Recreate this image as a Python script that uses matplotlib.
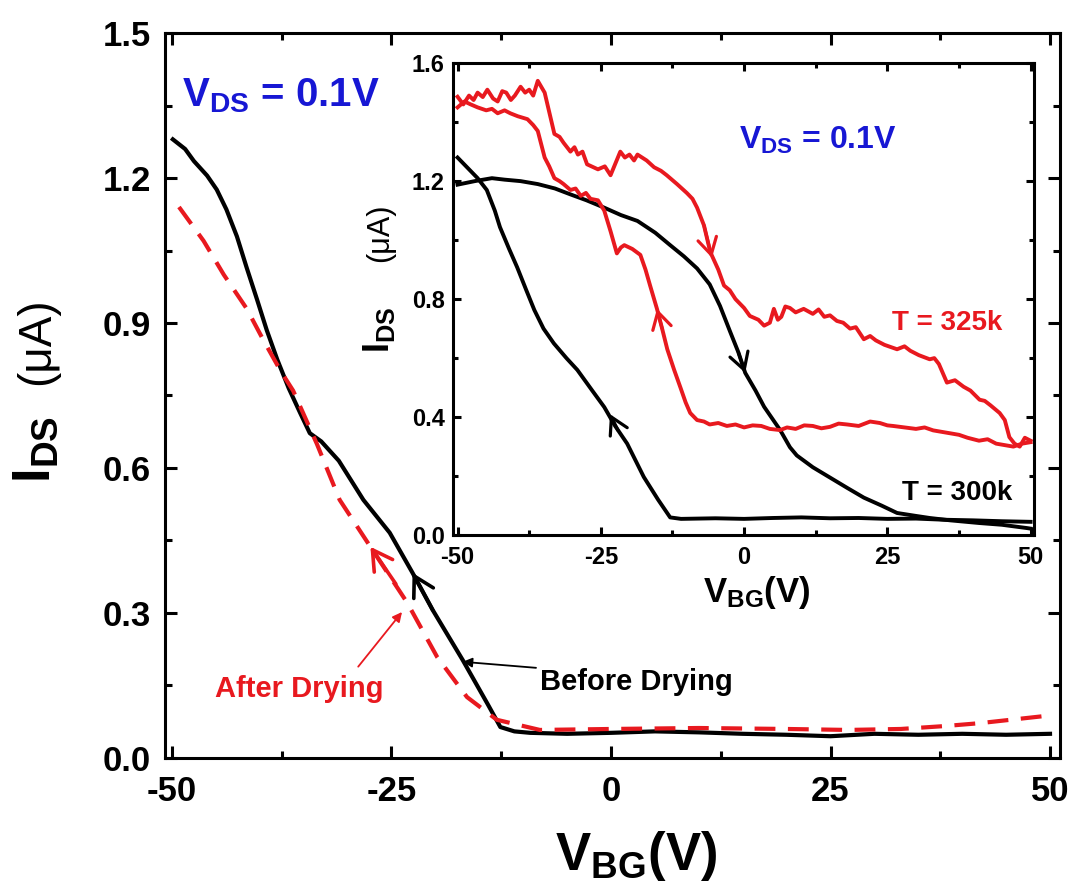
import matplotlib
matplotlib.use("Agg")
import matplotlib.pyplot as plt
from matplotlib.ticker import MultipleLocator

plt.rcParams["font.family"] = ["Liberation Sans", "DejaVu Sans"]
plt.rcParams["font.weight"] = "bold"
plt.rcParams["axes.unicode_minus"] = False
plt.rcParams["mathtext.fontset"] = "custom"
plt.rcParams["mathtext.rm"] = "Liberation Sans:bold"
plt.rcParams["mathtext.bf"] = "Liberation Sans:bold"
plt.rcParams["mathtext.it"] = "Liberation Sans:bold"

RED = "#e8191f"
BLUE = "#1717d4"

# main panel: before / after drying (V_DS = 0.1 V)
before_v = [-49.9, -48.5, -47.5, -46.0, -44.9, -43.8, -42.6, -41.5, -40.3, -39.2,
            -38.0, -36.7, -35.4, -34.3, -33.0, -31.0, -28.2, -25.2, -22.6, -20.3,
            -16.9, -14.0, -12.6, -11.0, -9.2, -5, 0, 5, 10, 15, 20, 25, 30, 35,
            40, 45, 50]
before_i = [1.28, 1.26, 1.235, 1.205, 1.176, 1.135, 1.079, 1.015, 0.948, 0.885,
            0.824, 0.765, 0.714, 0.672, 0.655, 0.615, 0.534, 0.466, 0.383, 0.306,
            0.203, 0.11, 0.064, 0.055, 0.052, 0.05, 0.052, 0.055, 0.053, 0.05,
            0.048, 0.045, 0.05, 0.048, 0.05, 0.048, 0.05]
after_v = [-49.2, -46.4, -44.1, -41.5, -39.6, -37.6, -36.2, -33.5, -30.9, -27.4,
           -23.2, -19.8, -16.4, -13.0, -8.1, 0, 10, 20, 27, 33, 38, 42, 46, 50]
after_i = [1.14, 1.07, 1.0, 0.93, 0.865, 0.80, 0.76, 0.65, 0.534, 0.437,
           0.321, 0.209, 0.126, 0.079, 0.058, 0.06, 0.062, 0.06, 0.058, 0.06,
           0.066, 0.072, 0.08, 0.088]

# inset: hysteresis loops at 300 K and 325 K
k300_fwd_v = [-50, -47, -44, -41.8, -39, -36, -33, -30.3, -27.5, -24.4, -21.5,
              -18.6, -15.5, -12.9, -10.5, -8.2, -6, -4.2, -2.4, -1, 0.2, 2, 3.5,
              6.3, 8, 9.2, 12, 15, 18, 20.9, 24, 26.7, 30, 32.4, 36, 41, 45, 49.3, 50]
k300_fwd_i = [1.188, 1.2, 1.21, 1.205, 1.2, 1.19, 1.175, 1.155, 1.135, 1.11, 1.085,
              1.065, 1.025, 0.983, 0.945, 0.904, 0.85, 0.777, 0.688, 0.62, 0.55, 0.49,
              0.435, 0.356, 0.298, 0.27, 0.23, 0.195, 0.16, 0.127, 0.1, 0.075, 0.065,
              0.058, 0.05, 0.041, 0.035, 0.024, 0.022]
k300_rev_v = [-50, -48, -46.5, -44.9, -43.5, -42.6, -41, -39.6, -38, -36.6, -35,
              -33.2, -31, -29.1, -26.5, -24.4, -22.5, -20.4, -17.5, -15, -12.9, -11,
              -5, 0, 5, 10, 15, 20, 25, 30, 35, 40, 45, 50]
k300_rev_i = [1.28, 1.24, 1.21, 1.17, 1.1, 1.044, 0.97, 0.908, 0.83, 0.763, 0.7,
              0.65, 0.6, 0.56, 0.49, 0.434, 0.37, 0.31, 0.197, 0.12, 0.06, 0.055,
              0.057, 0.055, 0.058, 0.06, 0.057, 0.058, 0.055, 0.056, 0.052, 0.05,
              0.047, 0.045]
k325_fwd_v = [-50, -49, -48, -47.2, -46.5, -45.6, -44.8, -43.8, -43, -42.2, -41.5,
              -40.7, -40, -39, -38.2, -37.5, -36.8, -36, -34.8, -33.1, -32.2, -31.5,
              -30.3, -29.6, -29, -28.2, -27.4, -25.5, -24.3, -23.3, -21.6, -20.8,
              -20, -19.2, -18.6, -17, -15.7, -14.5, -13.5, -11.7, -10, -9, -8.2, -7,
              -5.9, -4.5, -3.5, -2.5, -1.5, 0, 1, 2.5, 3.5, 4.5, 5.2, 5.9, 6.5, 7.2,
              8, 9, 10.4, 12, 13, 14, 15, 16.2, 17.3, 18.5, 19.5, 20.9, 22, 23, 24.5,
              26.7, 28, 29, 30.5, 32.4, 33.2, 34, 35.4, 36.8, 38.3, 39.5, 41.1, 42,
              43, 44.6, 45.5, 46.3, 47.2, 48.1, 49, 50]
k325_fwd_i = [1.486, 1.46, 1.49, 1.475, 1.5, 1.485, 1.51, 1.48, 1.47, 1.505, 1.5,
              1.475, 1.49, 1.52, 1.5, 1.51, 1.49, 1.54, 1.5, 1.36, 1.35, 1.33,
              1.3, 1.315, 1.29, 1.30, 1.257, 1.24, 1.25, 1.22, 1.3, 1.28, 1.29,
              1.27, 1.29, 1.27, 1.247, 1.235, 1.22, 1.19, 1.16, 1.14, 1.11, 1.05,
              0.96, 0.9, 0.846, 0.83, 0.8, 0.77, 0.743, 0.73, 0.71, 0.72, 0.767, 0.73,
              0.74, 0.775, 0.77, 0.755, 0.767, 0.75, 0.765, 0.74, 0.745, 0.726, 0.72,
              0.7, 0.705, 0.664, 0.675, 0.66, 0.645, 0.63, 0.64, 0.625, 0.61, 0.596,
              0.6, 0.58, 0.517, 0.525, 0.503, 0.49, 0.459, 0.455, 0.44, 0.414, 0.39,
              0.332, 0.31, 0.3, 0.33, 0.32]
k325_rev_v = [-50, -48.8, -47.7, -46.5, -45, -44, -43, -41.8, -40.8, -39.5, -37.8,
              -36.8, -36, -34.8, -34, -33.1, -32.2, -31.5, -30.3, -29.4, -28.5,
              -27.6, -26.8, -25.5, -24.4, -23.3, -22.2, -21.5, -20.9, -19.5, -18.1,
              -17.2, -16.4, -15.2, -14.3, -13.4, -12.2, -11.1, -10.2, -9.4, -8.2,
              -7, -6, -4.5, -3, -1.5, 0, 1.5, 3, 4.5, 6.3, 7.5, 9, 10.5, 12, 13.5,
              15, 16.5, 18, 20, 22, 23.7, 25, 26, 28, 30, 31.5, 33, 34.5, 36, 37.5,
              39, 41, 42.5, 44, 45.5, 47, 48.5, 50]
k325_rev_i = [1.45, 1.47, 1.46, 1.45, 1.44, 1.445, 1.43, 1.44, 1.43, 1.42, 1.41,
              1.39, 1.37, 1.28, 1.25, 1.21, 1.2, 1.19, 1.17, 1.175, 1.15, 1.16,
              1.14, 1.135, 1.1, 1.03, 0.955, 0.975, 0.983, 0.97, 0.95, 0.9, 0.846,
              0.767, 0.7, 0.63, 0.56, 0.5, 0.45, 0.414, 0.39, 0.385, 0.375, 0.38,
              0.37, 0.375, 0.365, 0.372, 0.37, 0.36, 0.356, 0.365, 0.36, 0.372, 0.37,
              0.362, 0.367, 0.378, 0.375, 0.37, 0.385, 0.38, 0.372, 0.37, 0.365,
              0.36, 0.365, 0.355, 0.35, 0.345, 0.34, 0.33, 0.32, 0.325, 0.31, 0.305,
              0.3, 0.31, 0.315]


def sweep_arrow(ax, tip, tail, color, lw, scale=20):
    # open chevron sitting on the curve, shaft hidden under the trace
    ax.annotate("", xy=tip, xytext=tail,
                arrowprops=dict(arrowstyle="->,head_length=0.7,head_width=0.4",
                                color=color, lw=lw, shrinkA=0, shrinkB=0,
                                mutation_scale=scale))


def style_axes(ax, size, major, minor, width):
    ax.tick_params(which="both", direction="in", top=True, right=True,
                   width=width, labelsize=size)
    ax.tick_params(which="major", length=major)
    ax.tick_params(which="minor", length=minor)
    for s in ax.spines.values():
        s.set_linewidth(width)


fig = plt.figure(figsize=(10.78, 8.83), dpi=100)

ax = fig.add_axes([0.153, 0.1416, 0.830, 0.821])
ax.plot(before_v, before_i, color="black", lw=3)
ax.plot(after_v, after_i, color=RED, lw=3, dashes=(5, 3))
ax.set_xlim(-50.8, 51.1)
ax.set_ylim(0, 1.5)
ax.xaxis.set_major_locator(MultipleLocator(25))
ax.xaxis.set_minor_locator(MultipleLocator(12.5))
ax.yaxis.set_major_locator(MultipleLocator(0.3))
ax.yaxis.set_minor_locator(MultipleLocator(0.15))
ax.yaxis.set_major_formatter(lambda v, p: f"{v:.1f}")
style_axes(ax, 25, 8.6, 5, 2.2)
ax.tick_params(axis="x", pad=12)
ax.tick_params(axis="y", pad=10)

ax.text(-48.9, 1.348, r"$\mathbf{V_{DS}}$ = 0.1V", color=BLUE, fontsize=29,
        va="baseline")
sweep_arrow(ax, (-22.6, 0.383), (-20.3, 0.306), "black", 2.6)
sweep_arrow(ax, (-27.4, 0.437), (-24.5, 0.36), RED, 2.6)
ax.annotate("After Drying", xy=(-23.8, 0.302), xytext=(-45.1, 0.126),
            color=RED, fontsize=21, va="baseline",
            arrowprops=dict(arrowstyle="-|>", color=RED, lw=1.3,
                            shrinkA=0, shrinkB=0, mutation_scale=14,
                            relpos=(0.85, 1.3)))
ax.annotate("Before Drying", xy=(-16.9, 0.199), xytext=(-8.1, 0.141),
            color="black", fontsize=21, va="baseline",
            arrowprops=dict(arrowstyle="-|>", color="black", lw=1.3,
                            shrinkA=0, shrinkB=0, mutation_scale=14,
                            relpos=(-0.02, 1.0)))

ax.text(0.527, -0.1545, r"$\mathbf{V_{BG}}$(V)", transform=ax.transAxes,
        fontsize=38, ha="center", va="baseline")
ax.text(-0.145, 0.425, r"$\mathbf{I_{DS}}$", transform=ax.transAxes,
        fontsize=38, rotation=90, ha="center", va="center")
ax.text(-0.143, 0.575, "(μA)", transform=ax.transAxes, fontweight="normal",
        fontsize=33, rotation=90, ha="center", va="center")

# inset
ins = fig.add_axes([0.4202, 0.394, 0.539, 0.5345])
ins.plot(k300_fwd_v, k300_fwd_i, color="black", lw=2.8)
ins.plot(k300_rev_v, k300_rev_i, color="black", lw=2.8)
ins.plot(k325_fwd_v, k325_fwd_i, color=RED, lw=2.8)
ins.plot(k325_rev_v, k325_rev_i, color=RED, lw=2.8)
ins.set_xlim(-50.8, 50.6)
ins.set_ylim(0, 1.6)
ins.xaxis.set_major_locator(MultipleLocator(25))
ins.xaxis.set_minor_locator(MultipleLocator(12.5))
ins.yaxis.set_major_locator(MultipleLocator(0.4))
ins.yaxis.set_minor_locator(MultipleLocator(0.2))
ins.yaxis.set_major_formatter(lambda v, p: f"{v:.1f}")
style_axes(ins, 17, 6, 3.5, 2.2)
ins.tick_params(axis="x", pad=8)
ins.tick_params(axis="y", pad=6)

sweep_arrow(ins, (-5.6, 0.94), (-7.0, 1.05), RED, 2.3, 17)
sweep_arrow(ins, (-15.2, 0.767), (-14.3, 0.70), RED, 2.3, 17)
sweep_arrow(ins, (0.2, 0.55), (-1.0, 0.62), "black", 2.3, 17)
sweep_arrow(ins, (-23.4, 0.41), (-22.0, 0.355), "black", 2.3, 17)

ins.text(-0.9, 1.31, r"$\mathbf{V_{DS}}$ = 0.1V", color=BLUE, fontsize=23,
         va="baseline")
ins.text(25.8, 0.695, "T = 325k", color=RED, fontsize=20, va="baseline")
ins.text(27.6, 0.119, "T = 300k", color="black", fontsize=20, va="baseline")
ins.text(0.523, -0.142, r"$\mathbf{V_{BG}}$(V)", transform=ins.transAxes,
         fontsize=25, ha="center", va="baseline")
ins.text(-0.127, 0.435, r"$\mathbf{I_{DS}}$", transform=ins.transAxes,
         fontsize=26, rotation=90, ha="center", va="center")
ins.text(-0.125, 0.64, "(μA)", transform=ins.transAxes, fontweight="normal",
         fontsize=22, rotation=90, ha="center", va="center")

fig.savefig("out.png", dpi=100)
